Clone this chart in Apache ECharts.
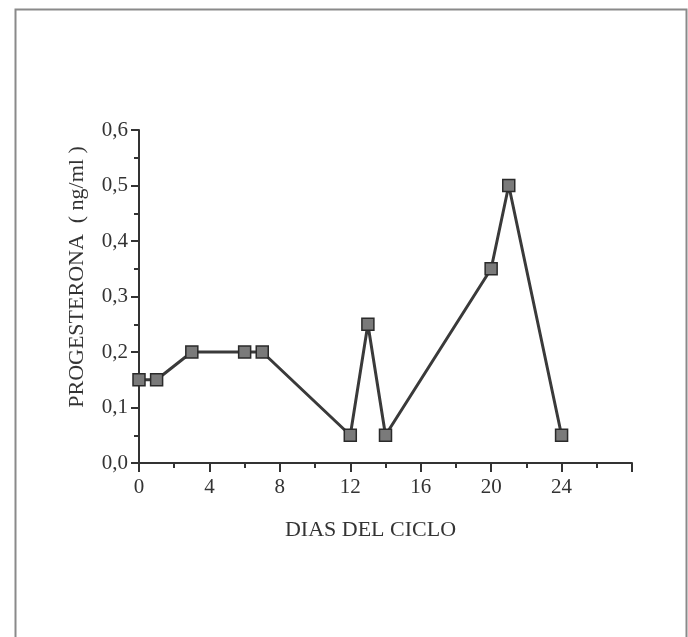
<!DOCTYPE html>
<html>
<head>
<meta charset="utf-8">
<script src="https://cdn.jsdelivr.net/npm/echarts@6/dist/echarts.min.js"></script>
<style>
  html, body { margin: 0; padding: 0; background: #fff; }
  #main { width: 688px; height: 637px; }
</style>
</head>
<body>
<div id="main"></div>
<script>
// dias del ciclo y progesterona (ng/ml)
var dias = [0, 1, 3, 6, 7, 12, 13, 14, 20, 21, 24];
var progesterona = [0.15, 0.15, 0.2, 0.2, 0.2, 0.05, 0.25, 0.05, 0.35, 0.5, 0.05];
var xTicks = [0, 4, 8, 12, 16, 20, 24];

var puntos = dias.map(function (d, i) { return [d, progesterona[i]]; });

var myChart = echarts.init(document.getElementById('main'));

var serif = 'Liberation Serif';

var option = {
  backgroundColor: '#fff',
  animation: false,
  graphic: [{
    type: 'rect',
    left: 13, top: 7,
    shape: { width: 671, height: 640 },
    style: { fill: 'none', stroke: '#8a8a8a', lineWidth: 2 }
  }, {
    // titulo del eje y
    type: 'text',
    x: 77, y: 277,
    rotation: Math.PI / 2,
    style: {
      text: 'PROGESTERONA  ( ng/ml )',
      font: '22px "Liberation Serif"',
      fill: '#333',
      textAlign: 'center',
      textVerticalAlign: 'middle'
    }
  }],
  grid: { left: 139, top: 130, right: 56, bottom: 174 },
  xAxis: {
    type: 'value',
    min: 0, max: 28, interval: 4,
    name: 'DIAS DEL CICLO',
    nameLocation: 'middle',
    nameGap: 56,
    nameTextStyle: { fontFamily: serif, fontSize: 22, color: '#333', padding: [0, 30, 0, 0] },
    axisLine: { lineStyle: { color: '#333', width: 2 } },
    axisTick: { inside: false, length: 9, lineStyle: { color: '#333', width: 2 } },
    minorTick: { show: true, splitNumber: 2, length: 5, lineStyle: { color: '#333', width: 2 } },
    splitLine: { show: false },
    axisLabel: {
      fontFamily: serif, fontSize: 21, color: '#333', margin: 14,
      formatter: function (v) { return xTicks.indexOf(v) >= 0 ? String(v) : ''; }
    }
  },
  yAxis: {
    type: 'value',
    min: 0, max: 0.6, interval: 0.1,
    axisLine: { show: true, lineStyle: { color: '#333', width: 2 } },
    axisTick: { show: true, length: 8, lineStyle: { color: '#333', width: 2 } },
    minorTick: { show: true, splitNumber: 2, length: 5, lineStyle: { color: '#333', width: 2 } },
    splitLine: { show: false },
    axisLabel: {
      fontFamily: serif, fontSize: 21, color: '#333', margin: 11,
      formatter: function (v) { return v.toFixed(1).replace('.', ','); }
    }
  },
  series: [{
    type: 'line',
    data: puntos,
    symbol: 'rect',
    symbolSize: 12,
    lineStyle: { color: '#3a3a3a', width: 3 },
    itemStyle: { color: '#7a7a7a', borderColor: '#2a2a2a', borderWidth: 1.5 }
  }]
};

myChart.setOption(option);
</script>
</body>
</html>
